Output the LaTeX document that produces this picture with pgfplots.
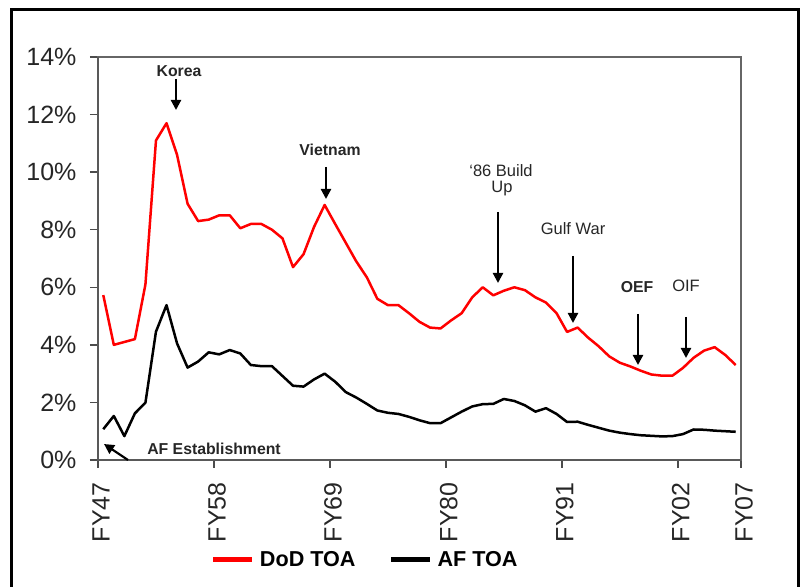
\documentclass[border=0pt]{standalone}
\usepackage{fontspec}
\setmainfont{Liberation Sans}
\usepackage{pgfplots}
\usepackage{pgfplotstable}
\pgfplotsset{compat=1.18}
\usetikzlibrary{arrows.meta}

\pgfplotstableread{
x dod af
0.5 5.73 1.07
1.5 4.00 1.53
2.5 4.10 0.83
3.5 4.20 1.62
4.5 6.10 1.99
5.5 11.10 4.46
6.5 11.70 5.38
7.5 10.60 4.05
8.5 8.90 3.21
9.5 8.30 3.42
10.5 8.35 3.74
11.5 8.50 3.67
12.5 8.50 3.82
13.5 8.05 3.70
14.5 8.20 3.30
15.5 8.20 3.26
16.5 8.00 3.26
17.5 7.70 2.92
18.5 6.70 2.58
19.5 7.15 2.55
20.5 8.10 2.80
21.5 8.86 3.00
22.5 8.20 2.72
23.5 7.55 2.36
24.5 6.90 2.17
25.5 6.35 1.95
26.5 5.60 1.72
27.5 5.38 1.64
28.5 5.38 1.60
29.5 5.10 1.50
30.5 4.80 1.38
31.5 4.60 1.28
32.5 4.57 1.28
33.5 4.85 1.48
34.5 5.10 1.68
35.5 5.65 1.86
36.5 6.00 1.94
37.5 5.72 1.95
38.5 5.88 2.12
39.5 6.00 2.05
40.5 5.90 1.90
41.5 5.65 1.68
42.5 5.47 1.80
43.5 5.10 1.60
44.5 4.45 1.32
45.5 4.60 1.33
46.5 4.25 1.22
47.5 3.95 1.12
48.5 3.60 1.02
49.5 3.38 0.95
50.5 3.25 0.90
51.5 3.10 0.86
52.5 2.97 0.84
53.5 2.93 0.82
54.5 2.93 0.83
55.5 3.20 0.90
56.5 3.55 1.06
57.5 3.80 1.05
58.5 3.92 1.02
59.5 3.65 1.00
60.5 3.30 0.98
}\datatable

\begin{document}
\begin{tikzpicture}
\useasboundingbox (0,0) rectangle (801bp,587bp);
\draw[line width=3bp] (11bp,0) -- (11bp,577.5bp) -- (798bp,577.5bp) -- (798bp,0);
\begin{axis}[
  at={(98bp,127bp)}, anchor=south west,
  scale only axis, width=643bp, height=403bp,
  xmin=0, xmax=61, ymin=0, ymax=14,
  axis line style={black!60, line width=1.2bp},
  tick align=outside, tick pos=left,
  major tick length=8bp,
  tick style={black!70, line width=1.5bp},
  xtick={0,11,22,33,44,55,61},
  xticklabels={FY47,FY58,FY69,FY80,FY91,FY02,FY07},
  ytick={0,2,4,6,8,10,12,14},
  yticklabels={0\%,2\%,4\%,6\%,8\%,10\%,12\%,14\%},
  xticklabel shift=11bp,
  yticklabel shift=10bp,
  xticklabel style={xshift=3bp, rotate=90, anchor=east, font=\fontsize{25bp}{28bp}\selectfont, text=black!85},
  yticklabel style={anchor=east, font=\fontsize{25bp}{28bp}\selectfont, text=black!85},
  legend columns=2,
  legend style={at={(axis description cs:0.418,-0.248)}, anchor=center, draw=none, fill=none,
    font=\fontsize{21.6bp}{24bp}\selectfont\bfseries,
    nodes={inner xsep=5bp},
    /tikz/every even column/.append style={column sep=28bp}},
  legend image code/.code={\draw[#1, line width=5bp] (0bp,0bp) -- (39bp,0bp);},
  clip=false,
]
\addplot[red, line width=2.5bp, line join=round] table[x=x, y=dod] {\datatable};
\addlegendentry{DoD TOA}
\addplot[black, line width=2.5bp, line join=round] table[x=x, y=af] {\datatable};
\addlegendentry{AF TOA}
\draw[black!65, line width=2bp] (rel axis cs:0,1) -- (rel axis cs:0,0) -- (rel axis cs:1,0);
\end{axis}
\tikzset{ann/.style={font=\fontsize{15.8bp}{18bp}\selectfont\bfseries, text=black!85},
         annr/.style={font=\fontsize{16.5bp}{18bp}\selectfont, text=black!85},
         arr/.style={line width=2.2bp, -{Triangle[width=10bp,length=10bp]}}}
\node[ann] at (179bp,516bp) {Korea};
\draw[arr] (176bp,508bp) -- (176bp,477bp);
\node[ann] at (330bp,437bp) {Vietnam};
\draw[arr] (326bp,420bp) -- (326bp,388bp);
\node[annr] at (501bp,416bp) {`86 Build};
\node[annr] at (502bp,398bp) {Up};
\draw[arr] (498bp,375bp) -- (498bp,304bp);
\node[annr] at (573bp,358bp) {Gulf War};
\draw[arr] (573bp,331bp) -- (573bp,264bp);
\node[ann] at (637bp,300bp) {OEF};
\draw[arr] (638bp,273bp) -- (638bp,222bp);
\node[annr] at (686bp,301bp) {OIF};
\draw[arr] (686bp,270bp) -- (686bp,229bp);
\node[ann] at (214bp,138bp) {AF Establishment};
\draw[arr] (128bp,127bp) -- (104bp,143bp);
\end{tikzpicture}
\end{document}
